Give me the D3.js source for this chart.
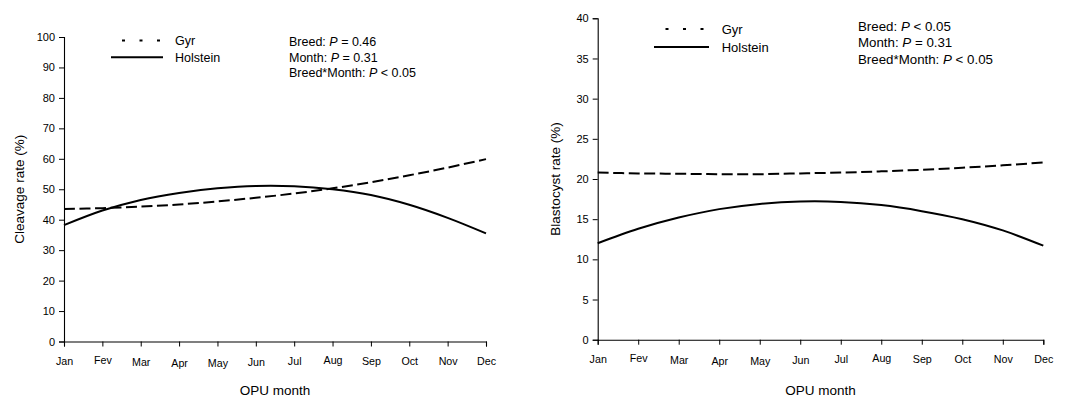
<!DOCTYPE html>
<html>
<head>
<meta charset="utf-8">
<script src="https://cdn.jsdelivr.net/npm/d3@7"></script>
<style>
  html, body { margin: 0; padding: 0; background: #fff; }
  svg { display: block; font-family: "Liberation Sans", Arial, sans-serif; }
</style>
</head>
<body>
<svg id="chart" width="1067" height="397"></svg>
<script>
// OPU months along the x axis
const months = ["Jan", "Fev", "Mar", "Apr", "May", "Jun", "Jul", "Aug", "Sep", "Oct", "Nov", "Dec"];

// Cleavage rate (%) by month
const cleavageGyr      = [43.5, 43.8, 44.3, 45.0, 46.0, 47.2, 48.6, 50.3, 52.3, 54.6, 57.1, 59.9];
const cleavageHolstein = [38.2, 43.0, 46.5, 48.8, 50.3, 51.1, 51.0, 50.0, 48.1, 44.9, 40.6, 35.5];

// Blastocyst rate (%) by month
const blastGyr      = [20.8, 20.7, 20.65, 20.6, 20.6, 20.7, 20.8, 20.95, 21.15, 21.4, 21.7, 22.05];
const blastHolstein = [12.0, 13.8, 15.2, 16.25, 16.9, 17.2, 17.15, 16.75, 16.0, 15.0, 13.6, 11.7];

// Axis ticks
const cleavageTicks = [0, 10, 20, 30, 40, 50, 60, 70, 80, 90, 100];
const blastTicks    = [0, 5, 10, 15, 20, 25, 30, 35, 40];

// Statistics annotations
const cleavageStats = [["Breed: ", "P", " = 0.46"], ["Month: ", "P", " = 0.31"], ["Breed*Month: ", "P", " < 0.05"]];
const blastStats    = [["Breed: ", "P", " < 0.05"], ["Month: ", "P", " = 0.31"], ["Breed*Month: ", "P", " < 0.05"]];

// small vertical nudges of the month labels
const monthNudge = [0, -1, 1.5, 2, 2, 1.5, 0, -1, 0.5, 0.5, 0, 0.5];

const svg = d3.select("#chart");

function panel(cfg) {
  const x = d3.scaleLinear().domain([0, months.length - 1]).range([cfg.x0, cfg.x1]);
  const y = d3.scaleLinear().domain([cfg.yTicks[0], cfg.yTicks[cfg.yTicks.length - 1]]).range([cfg.y0, cfg.y1]);
  const g = svg.append("g");

  // y axis
  const ya = g.append("g").attr("transform", `translate(${cfg.x0},0)`)
    .call(d3.axisLeft(y).tickValues(cfg.yTicks).tickSize(5).tickPadding(4).tickFormat(d3.format("d")));
  ya.select(".domain").attr("stroke", "#000").attr("stroke-width", 1.1);
  ya.selectAll(".tick line").attr("stroke", "#000");
  ya.selectAll("text").attr("font-size", 11).attr("fill", "#000")
    .attr("font-family", "Liberation Sans, Arial, sans-serif");

  // x axis
  const xa = g.append("g").attr("transform", `translate(0,${cfg.y0})`)
    .call(d3.axisBottom(x).tickValues(d3.range(months.length)).tickSize(5).tickFormat(i => months[i]));
  xa.select(".domain").attr("stroke", "#000").attr("stroke-width", 1.1);
  xa.selectAll(".tick line").attr("stroke", "#000");
  xa.selectAll("text").attr("font-size", 10.7).attr("fill", "#000")
    .attr("font-family", "Liberation Sans, Arial, sans-serif")
    .attr("y", (d, i) => 15.5 + monthNudge[i]).attr("dy", "0.71em");

  // axis titles
  g.append("text").attr("x", (cfg.x0 + cfg.x1) / 2).attr("y", 394.5)
    .attr("text-anchor", "middle").attr("font-size", 13.5).attr("fill", "#000").text("OPU month");
  g.append("text").attr("transform", `translate(${cfg.titleX},${(cfg.y0 + cfg.y1) / 2}) rotate(-90)`)
    .attr("text-anchor", "middle").attr("dy", "0.35em").attr("font-size", 13.5).attr("fill", "#000")
    .text(cfg.yTitle);

  // curves
  const line = d3.line().x((d, i) => x(i)).y(d => y(d)).curve(d3.curveCatmullRom.alpha(0.5));
  g.append("path").datum(cfg.gyr).attr("d", line)
    .attr("fill", "none").attr("stroke", "#000").attr("stroke-width", 2).attr("stroke-dasharray", "11,4.5");
  g.append("path").datum(cfg.holstein).attr("d", line)
    .attr("fill", "none").attr("stroke", "#000").attr("stroke-width", 2);

  // legend
  const L = cfg.legend;
  g.append("line").attr("x1", L.dotX0).attr("x2", L.dotX1).attr("y1", L.y1).attr("y2", L.y1)
    .attr("stroke", "#000").attr("stroke-width", 2).attr("stroke-dasharray", "3,14.5");
  g.append("line").attr("x1", L.lineX0).attr("x2", L.lineX1).attr("y1", L.y2).attr("y2", L.y2)
    .attr("stroke", "#000").attr("stroke-width", 2);
  g.append("text").attr("x", L.textX).attr("y", L.y1).attr("dy", "0.35em")
    .attr("font-size", L.fs).attr("fill", "#000").text("Gyr");
  g.append("text").attr("x", L.textX).attr("y", L.y2).attr("dy", "0.35em")
    .attr("font-size", L.fs).attr("fill", "#000").text("Holstein");

  // statistics block
  cfg.stats.forEach((parts, k) => {
    const t = g.append("text").attr("x", cfg.statsX).attr("y", cfg.statsY + k * cfg.statsStep)
      .attr("font-size", cfg.statsFs).attr("fill", "#000");
    t.append("tspan").text(parts[0]);
    t.append("tspan").attr("font-style", "italic").text(parts[1]);
    t.append("tspan").text(parts[2]);
  });
}

panel({
  x0: 64, x1: 486, y0: 341.5, y1: 37,
  yTicks: cleavageTicks, yTitle: "Cleavage rate (%)", titleX: 19,
  gyr: cleavageGyr, holstein: cleavageHolstein,
  legend: { dotX0: 122, dotX1: 162, lineX0: 111, lineX1: 163, y1: 40.5, y2: 57.3, textX: 175, fs: 12.5 },
  stats: cleavageStats, statsX: 289, statsY: 46, statsStep: 15.5, statsFs: 12.5
});

panel({
  x0: 597.7, x1: 1043.3, y0: 339.7, y1: 18.3,
  yTicks: blastTicks, yTitle: "Blastocyst rate (%)", titleX: 555,
  gyr: blastGyr, holstein: blastHolstein,
  legend: { dotX0: 665.5, dotX1: 706, lineX0: 654, lineX1: 709, y1: 29, y2: 47, textX: 721.7, fs: 13 },
  stats: blastStats, statsX: 858, statsY: 30.5, statsStep: 16.5, statsFs: 13.3
});
</script>
</body>
</html>
